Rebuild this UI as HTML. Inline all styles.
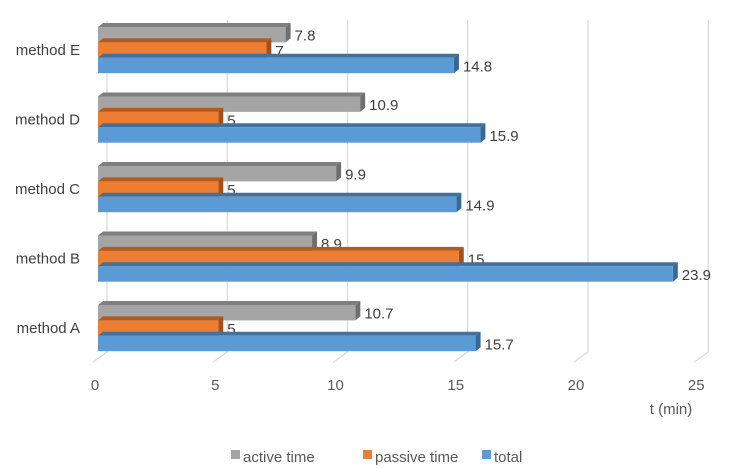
<!DOCTYPE html>
<html><head><meta charset="utf-8"><style>
html,body{margin:0;padding:0;background:#fff}
svg{display:block;font-family:"Liberation Sans",Arial,sans-serif}
</style></head><body>
<svg id="chart" width="741" height="469" viewBox="0 0 741 469" xmlns="http://www.w3.org/2000/svg">
<g id="grid"></g>
<g id="bars"></g>
<g id="xticks"></g>
<g id="ylabels"></g>
<text x="671" y="414" font-size="15" fill="#595959" text-anchor="middle">t (min)</text>
<g font-size="15" fill="#595959">
 <g><rect x="231" y="450" width="9" height="9" fill="#a5a5a5"/><text x="243" y="462">active time</text></g>
 <g><rect x="363" y="450" width="9" height="9" fill="#ed7d31"/><text x="375" y="462">passive time</text></g>
 <g><rect x="482" y="450" width="9" height="9" fill="#5b9bd5"/><text x="494" y="462">total</text></g>
</g>
</svg>
<script>
const categories = ["method E","method D","method C","method B","method A"];
const activeTime = [7.8,10.9,9.9,8.9,10.7];
const passiveTime = [7,5,5,15,5];
const totalTime = [14.8,15.9,14.9,23.9,15.7];
const xTicks = [0,5,10,15,20,25];

const NS="http://www.w3.org/2000/svg";
const x0=98, unit=24.05;
function xs(v){return x0+v*unit;}
const groupTop=27, pitch=69.5, barH=15.4;
function yBar(ci,si){return groupTop+ci*pitch+si*barH;}
const DX=5, DY=4;
function mk(tag,attrs,parent){const e=document.createElementNS(NS,tag);for(const k in attrs)e.setAttribute(k,attrs[k]);parent.appendChild(e);return e;}

const grid=document.getElementById('grid');
xTicks.forEach(t=>{
  const x=xs(t)+9;
  const l=mk('path',{d:`M${x} 20 V352 L${x-14} 362`,stroke:'#d9d9d9','stroke-width':1.2,fill:'none'},grid);
  
  
});
const xt=document.getElementById('xticks');
xTicks.forEach(t=>{
  const e=mk('text',{x:xs(t)-3,y:390,'font-size':15,fill:'#595959','text-anchor':'middle'},xt);
  e.textContent=t;
  
  
});
const series=[
  {name:'active',vals:activeTime,face:'#a5a5a5',top:'#7f7f7f',side:'#6f6f6f'},
  {name:'passive',vals:passiveTime,face:'#ed7d31',top:'#b45a1f',side:'#a34f19'},
  {name:'total',vals:totalTime,face:'#5b9bd5',top:'#41719c',side:'#3a6895'}
];
const bars=document.getElementById('bars');
const yl=document.getElementById('ylabels');
categories.forEach((c,ci)=>{
  const t=mk('text',{x:80,y:yBar(ci,1)+barH/2+5,'font-size':15,fill:'#404040','text-anchor':'end'},yl);
  t.textContent=c;
  
  
  series.forEach((s,si)=>{
    const v=s.vals[ci], y=yBar(ci,si), xe=xs(v);
    const g=mk('g',{},bars);
    
    
    mk('polygon',{points:`${x0},${y} ${x0+DX},${y-DY} ${xe+DX},${y-DY} ${xe},${y}`,fill:s.top},g);
    mk('polygon',{points:`${xe},${y} ${xe+DX},${y-DY} ${xe+DX},${y+barH-DY} ${xe},${y+barH}`,fill:s.side},g);
    mk('rect',{x:x0,y:y,width:xe-x0,height:barH,fill:s.face},g);
    const lb=mk('text',{x:xe+9,y:y+barH/2+6,'font-size':15,fill:'#404040'},g);
    lb.textContent=v;
    
    
  });
});
</script>
</body></html>
